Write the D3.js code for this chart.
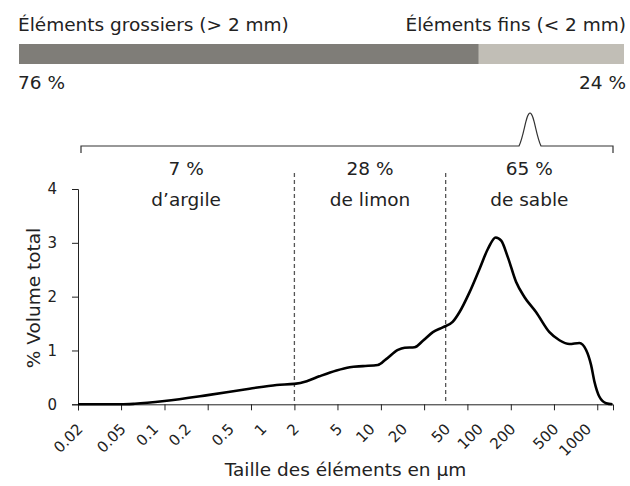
<!DOCTYPE html>
<html>
<head>
<meta charset="utf-8">
<script src="https://cdn.jsdelivr.net/npm/d3@7"></script>
<style>
  body { margin: 0; background: #fff; }
  svg text { font-family: "DejaVu Sans", sans-serif; fill: #222; }
</style>
</head>
<body>
<div id="chart"></div>
<script>
// top bar: coarse vs fine fraction
const barNames = ["Éléments grossiers (> 2 mm)", "Éléments fins (< 2 mm)"];
const barShares = [76, 24];
const barColors = ["#7f7d78", "#c1beb6"];

// fine fraction split
const classBounds = [2, 50]; // µm
const classShares = ["7 %", "28 %", "65 %"];
const classNames = ["d’argile", "de limon", "de sable"];

// particle size distribution (µm -> % volume)
const sizes = [0.02, 0.05, 0.067, 0.126, 0.316, 0.77, 1.37, 2, 2.6, 3.4,
  4.9, 6.5, 8.6, 11.8, 14.1, 18.1, 20.9, 25.8, 30.8, 38.1,
  47, 58, 67, 83, 103, 123, 145, 163, 188, 224,
  268, 343, 455, 563, 697, 861, 993, 1104, 1186, 1318,
  1521, 1740];
const volumes = [0, 0, 0.01, 0.06, 0.17, 0.29, 0.36, 0.38, 0.43, 0.52,
  0.63, 0.69, 0.71, 0.73, 0.84, 1.01, 1.05, 1.06, 1.18, 1.34,
  1.43, 1.53, 1.71, 2.08, 2.52, 2.89, 3.10, 3.04, 2.73, 2.27,
  1.99, 1.71, 1.34, 1.19, 1.12, 1.14, 1.01, 0.73, 0.42, 0.14,
  0.02, 0];

// axis stuff
const xTicks = [0.02, 0.05, 0.126, 0.316, 0.794, 2, 5, 12.6, 31.6, 79.4, 200, 501, 1259];
const xLabels = [0.02, 0.05, 0.1, 0.2, 0.5, 1, 2, 5, 10, 20, 50, 100, 200, 500, 1000];
const yTicks = [0, 1, 2, 3, 4];

let width = 630;
let height = 486;
let bigFont = "18.5px";

const svg = d3.select("#chart")
  .append("svg")
  .attr("width", width)
  .attr("height", height);

// scales
const x = d3.scaleLog().domain([0.02, 1760]).range([78, 613]);
const y = d3.scaleLinear().domain([0, 4]).range([404.3, 189]);

// --- top bar ---
const bar = d3.scaleLinear().domain([0, d3.sum(barShares)]).range([19, 624]);
const starts = d3.cumsum([0].concat(barShares)).slice(0, barShares.length);

svg.selectAll("rect.share")
  .data(barShares)
  .enter()
  .append("rect")
  .attr("class", "share")
  .attr("x", (d, i) => bar(starts[i]))
  .attr("width", (d, i) => bar(starts[i] + d) - bar(starts[i]))
  .attr("y", 44)
  .attr("height", 20)
  .style("fill", (d, i) => barColors[i]);

svg.selectAll("text.barname")
  .data(barNames)
  .enter()
  .append("text")
  .attr("class", "barname")
  .attr("x", (d, i) => i === 0 ? 18 : 626)
  .attr("y", 31)
  .attr("text-anchor", (d, i) => i === 0 ? "start" : "end")
  .style("font-size", bigFont)
  .text(d => d);

svg.selectAll("text.barpct")
  .data(barShares)
  .enter()
  .append("text")
  .attr("class", "barpct")
  .attr("x", (d, i) => i === 0 ? 18 : 626)
  .attr("y", 89)
  .attr("text-anchor", (d, i) => i === 0 ? "start" : "end")
  .style("font-size", bigFont)
  .text(d => d + " %");

// --- brace with a tip pointing at the fine fraction ---
const bx0 = 81, bx1 = 613, by = 146;
const tip = bx0 + 0.844 * (bx1 - bx0);
const brace = d3.path();
brace.moveTo(bx0, by + 7);
brace.lineTo(bx0, by);
brace.lineTo(tip - 11, by);
brace.bezierCurveTo(tip - 6, by - 10, tip - 4, by - 33, tip, by - 33);
brace.bezierCurveTo(tip + 4, by - 33, tip + 6, by - 10, tip + 11, by);
brace.lineTo(bx1, by);
brace.lineTo(bx1, by + 7);

svg.append("path")
  .attr("d", brace.toString())
  .style("fill", "none")
  .style("stroke", "#333")
  .style("stroke-width", 1.2);

// --- class boundaries (dashed) ---
svg.selectAll("line.bound")
  .data(classBounds)
  .enter()
  .append("line")
  .attr("class", "bound")
  .attr("x1", d => x(d))
  .attr("x2", d => x(d))
  .attr("y1", 173)
  .attr("y2", y(0))
  .style("stroke", "#555")
  .style("stroke-width", 1.3)
  .style("stroke-dasharray", "4,3");

// centers of each class
const edges = [x.domain()[0]].concat(classBounds, [x.domain()[1]]);
const centers = classShares.map((d, i) => (x(edges[i]) + x(edges[i + 1])) / 2);

svg.selectAll("text.classpct")
  .data(classShares)
  .enter()
  .append("text")
  .attr("class", "classpct")
  .attr("x", (d, i) => centers[i])
  .attr("y", 175)
  .attr("text-anchor", "middle")
  .style("font-size", bigFont)
  .text(d => d);

svg.selectAll("text.classname")
  .data(classNames)
  .enter()
  .append("text")
  .attr("class", "classname")
  .attr("x", (d, i) => centers[i])
  .attr("y", 206)
  .attr("text-anchor", "middle")
  .style("font-size", bigFont)
  .text(d => d);

// --- axes ---
const yAxis = svg.append("g")
  .attr("transform", "translate(78,0)")
  .call(d3.axisLeft(y).tickValues(yTicks).tickSize(6).tickPadding(15).tickFormat(d3.format("d")));

const xAxis = svg.append("g")
  .attr("transform", "translate(0," + y(0) + ")")
  .call(d3.axisBottom(x).tickValues(xTicks).tickSize(6).tickFormat(""));

[xAxis, yAxis].forEach(function(g) {
  g.select(".domain").style("stroke", "#222").style("stroke-width", 1);
  g.selectAll(".tick line").style("stroke", "#222");
  g.selectAll("text").style("font-size", "15px").style("fill", "#222").style("font-family", "DejaVu Sans, sans-serif");
});

// x labels sit on the log position of their value, rotated
svg.selectAll("text.xlab")
  .data(xLabels)
  .enter()
  .append("text")
  .attr("class", "xlab")
  .attr("transform", d => "translate(" + (x(d) + 2) + "," + (y(0) + 22) + ") rotate(-45)")
  .attr("text-anchor", "end")
  .attr("dy", "0.35em")
  .style("font-size", "15px")
  .text(d => d);

// axis titles
svg.append("text")
  .attr("x", (x.range()[0] + x.range()[1]) / 2)
  .attr("y", 476)
  .attr("text-anchor", "middle")
  .style("font-size", bigFont)
  .text("Taille des éléments en µm");

svg.append("text")
  .attr("transform", "translate(40,298) rotate(-90)")
  .attr("text-anchor", "middle")
  .style("font-size", bigFont)
  .text("% Volume total");

// --- the curve ---
const line = d3.line()
  .x((d, i) => x(sizes[i]))
  .y(d => y(d))
  .curve(d3.curveMonotoneX);

svg.append("path")
  .datum(volumes)
  .attr("d", line)
  .style("fill", "none")
  .style("stroke", "#000")
  .style("stroke-width", 2.6)
  .style("stroke-linejoin", "round");
</script>
</body>
</html>
